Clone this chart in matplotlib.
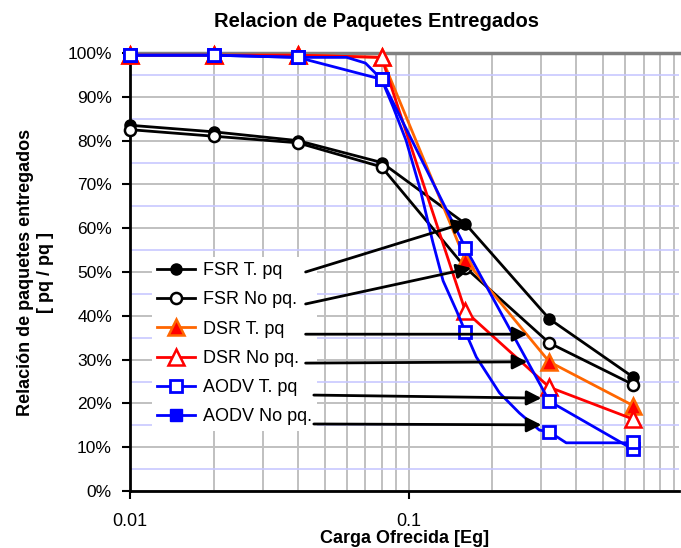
import numpy as np
import matplotlib
matplotlib.use("Agg")
import matplotlib.pyplot as plt
from matplotlib.ticker import FixedLocator, NullFormatter

plt.rcParams['font.family'] = ['Liberation Sans', 'DejaVu Sans']

# Carga ofrecida [Eg]
carga = [0.01, 0.02, 0.04, 0.08, 0.16, 0.32, 0.64]

# Relacion de paquetes entregados [%]
fsr_t = [83.5, 82.0, 80.0, 75.0, 61.0, 39.3, 26.0]
fsr_no = [82.5, 81.0, 79.5, 74.0, 51.0, 33.8, 24.3]
dsr_t = [99.5, 99.5, 99.5, 99.0, 52.7, 29.5, 19.5]
dsr_no = [99.5, 99.5, 99.5, 99.0, 41.0, 23.7, 16.4]
aodv_t = [99.5, 99.5, 99.0, 94.0, 55.5, 20.5, 9.5]
aodv_no = [99.5, 99.5, 99.0, 94.0, 36.3, 13.5, 11.3]

# curva suavizada de AODV No pq
aodv_no_cx = [0.01, 0.02, 0.04, 0.06, 0.07, 0.08, 0.088, 0.098, 0.11, 0.122,
              0.133, 0.149, 0.16, 0.175, 0.212, 0.25, 0.295, 0.32, 0.368, 0.60, 0.64]
aodv_no_cy = [99.5, 99.5, 99.0, 99.0, 97.7, 94.0, 87.7, 80.0, 69.0, 57.0,
              48.0, 41.0, 36.3, 30.6, 22.4, 17.8, 13.9, 13.5, 11.0, 11.0, 11.3]

etiquetas = ['FSR T. pq', 'FSR No pq.', 'DSR T. pq', 'DSR No pq.',
             'AODV T. pq', 'AODV No pq.']

# flechas: (inicio x, inicio y, fin x, fin y)
flechas = [
    (0.0427, 50.0, 0.163, 61.4),
    (0.0427, 42.7, 0.168, 50.9),
    (0.0427, 35.8, 0.267, 35.8),
    (0.0427, 29.2, 0.267, 29.5),
    (0.0457, 21.9, 0.300, 21.2),
    (0.0457, 15.3, 0.300, 15.1),
]

fig = plt.figure(figsize=(6.81, 5.48), dpi=100)
ax = fig.add_axes([130/681, 1 - 491/548, 549/681, 438/548])

lw = 2.0
ms = 8
h1, = ax.plot(carga, fsr_t, color='black', lw=lw, marker='o', ms=ms,
              mfc='black', mec='black', zorder=5, clip_on=False)
h2, = ax.plot(carga, fsr_no, color='black', lw=lw, marker='o', ms=ms,
              mfc='white', mec='black', mew=1.8, zorder=5, clip_on=False)
h3, = ax.plot(carga, dsr_t, color='#FF6600', lw=lw, marker='^', ms=ms + 3,
              mfc='#FF0000', mec='#FF6600', mew=1.8, zorder=5, clip_on=False)
h4, = ax.plot(carga, dsr_no, color='#FF0000', lw=lw, marker='^', ms=ms + 3,
              mfc='white', mec='#FF0000', mew=1.8, zorder=5, clip_on=False)
h5, = ax.plot(carga, aodv_t, color='#0000FF', lw=lw, marker='s', ms=ms,
              mfc='white', mec='#0000FF', mew=2.0, zorder=6, clip_on=False)
ax.plot(aodv_no_cx, aodv_no_cy, color='#0000FF', lw=lw, zorder=6, clip_on=False)
ax.plot(carga, aodv_no, ls='none', marker='s', ms=ms,
        mfc='white', mec='#0000FF', mew=2.0, zorder=6, clip_on=False)
h6, = ax.plot([], [], color='#0000FF', lw=lw, marker='s', ms=ms,
              mfc='#0000FF', mec='#0000FF')

ax.set_xscale('log')
ax.set_xlim(0.01, 0.935)
ax.set_ylim(0, 100)

ax.xaxis.set_major_locator(FixedLocator([0.01, 0.1]))
ax.xaxis.set_major_formatter(plt.FuncFormatter(lambda v, p: f'{v:g}'))
menores = [i * 0.01 for i in range(2, 10)] + [i * 0.1 for i in range(2, 10)]
ax.xaxis.set_minor_locator(FixedLocator(menores))
ax.xaxis.set_minor_formatter(NullFormatter())

ax.set_yticks(np.arange(0, 101, 10))
ax.set_yticklabels([f'{v}%' for v in range(0, 101, 10)])
ax.yaxis.set_minor_locator(FixedLocator(np.arange(5, 100, 10)))

ax.grid(True, which='both', axis='x', color='#c0c0c0', lw=1.4, zorder=0)
ax.grid(True, which='major', axis='y', color='#c0c0c0', lw=1.4, zorder=0)
ax.grid(True, which='minor', axis='y', color='#c8c8ff', lw=1.2, zorder=0)
ax.set_axisbelow(True)
ax.axhline(100, color='#808080', lw=2.5, clip_on=False, zorder=1)

ax.tick_params(axis='both', which='major', direction='out', length=6, width=1.5,
               labelsize=12.5, color='black')
ax.tick_params(axis='y', which='major', pad=7)
ax.tick_params(axis='x', which='major', pad=10, labelsize=13)
ax.tick_params(which='minor', length=0)
for s in ['top', 'right']:
    ax.spines[s].set_visible(False)
for s in ['left', 'bottom']:
    ax.spines[s].set_linewidth(2)
    ax.spines[s].set_color('black')

ax.set_title('Relacion de Paquetes Entregados', fontsize=14.5, fontweight='bold',
             x=(377 - 130) / 549, pad=19)
ax.set_xlabel('Carga Ofrecida [Eg]', fontsize=13, fontweight='bold', labelpad=0)
ax.set_ylabel('Relación de paquetes entregados\n[ pq / pq ]', fontsize=13,
              fontweight='bold', labelpad=10, linespacing=1.2)

leg = ax.legend([h1, h2, h3, h4, h5, h6], etiquetas, loc='upper left',
                bbox_to_anchor=(0.04, 0.535), fontsize=13, frameon=True,
                facecolor='white', edgecolor='none', framealpha=1, fancybox=False,
                handlelength=2.1, handletextpad=0.4, labelspacing=0.68,
                borderpad=0.3, borderaxespad=0)
leg.set_zorder(7)

for x0, y0, x1, y1 in flechas:
    ax.annotate('', xy=(x1, y1), xytext=(x0, y0),
                arrowprops=dict(arrowstyle='-|>', color='black', lw=2.0,
                                mutation_scale=22, shrinkA=0, shrinkB=0),
                zorder=8)

fig.savefig('out.png', dpi=100)
